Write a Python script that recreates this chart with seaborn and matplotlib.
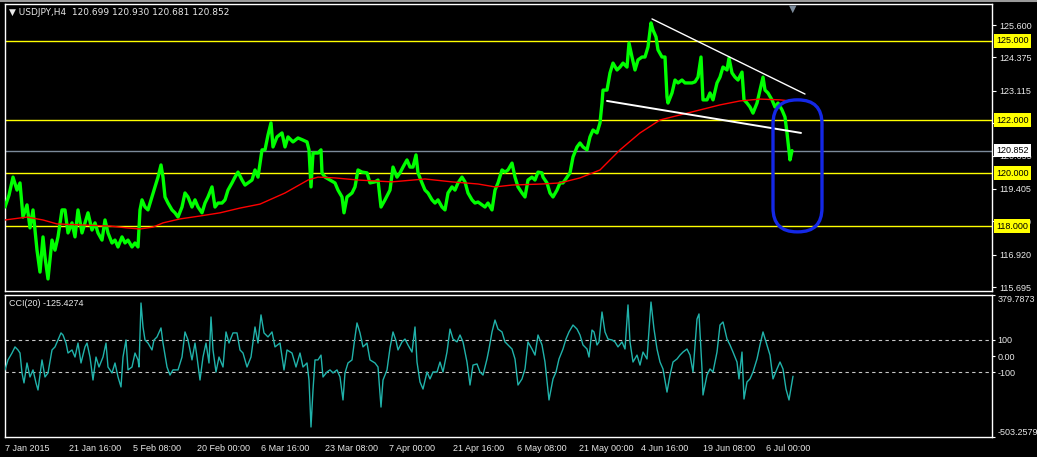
import numpy as np
import pandas as pd
import seaborn as sns
import matplotlib.pyplot as plt
import matplotlib.transforms as mtransforms
from matplotlib.patches import FancyBboxPatch
from matplotlib.lines import Line2D

sns.set_style("dark", {"axes.facecolor": "black", "figure.facecolor": "black"})
plt.rcParams["font.family"] = ["Liberation Sans", "DejaVu Sans"]

# --- price (USDJPY H4), bar number from the left edge ---
price_bar = [0, 4, 8, 12, 15, 18, 22, 25, 28, 32, 35, 38, 40, 43, 47, 50, 53, 57, 60, 63,
             67, 70, 73, 77, 80, 83, 87, 90, 93, 97, 100, 103, 107, 110, 113, 117, 120, 123, 127, 130,
             133, 135, 137, 140, 143, 147, 150, 153, 156, 158, 160, 163, 167, 170, 173, 177, 180, 183, 187, 190,
             193, 197, 200, 203, 207, 210, 213, 217, 220, 223, 227, 230, 233, 237, 240, 243, 247, 250, 253, 257,
             260, 263, 266, 268, 272, 277, 280, 283, 288, 293, 298, 302, 304, 306, 308, 313, 316, 317, 320, 325,
             330, 333, 337, 339, 342, 347, 350, 353, 357, 362, 365, 370, 373, 376, 380, 385, 388, 392, 395, 398,
             402, 405, 408, 411, 413, 417, 420, 423, 427, 430, 433, 437, 440, 443, 447, 450, 453, 457, 460, 463,
             467, 470, 473, 477, 480, 483, 487, 490, 493, 497, 500, 503, 507, 510, 513, 517, 520, 523, 527, 530,
             533, 537, 538, 542, 545, 548, 552, 555, 558, 562, 565, 568, 572, 575, 578, 582, 585, 588, 592, 595,
             597, 598, 602, 605, 608, 612, 615, 618, 622, 624, 627, 630, 633, 637, 640, 643, 646, 648, 651, 653,
             657, 660, 662, 663, 667, 670, 673, 677, 680, 683, 687, 690, 693, 696, 698, 702, 705, 708, 712, 715,
             718, 722, 724, 727, 730, 733, 737, 739, 742, 745, 748, 752, 755, 758, 760, 763, 767, 770, 773, 777,
             780, 782, 785, 787]
price_close = [118.72, 119.17, 119.85, 119.36, 119.63, 118.34, 118.80, 117.93, 118.61, 117.09,
               116.26, 117.59, 116.83, 116.00, 117.47, 117.09, 117.59, 118.61, 118.61, 117.74,
               118.12, 117.59, 118.61, 117.74, 118.12, 118.50, 117.85, 118.12, 117.74, 117.47,
               118.23, 117.74, 117.36, 117.47, 117.21, 117.59, 117.36, 117.47, 117.21, 117.36,
               117.21, 118.61, 118.99, 118.72, 118.61, 119.10, 119.48, 119.85, 120.31, 119.85,
               119.10, 118.87, 118.61, 118.50, 118.34, 118.72, 119.25, 119.10, 118.72, 118.99,
               118.72, 118.50, 118.87, 119.10, 119.48, 118.72, 118.87, 118.87, 118.99, 119.36,
               119.63, 119.85, 120.04, 119.74, 119.55, 119.63, 119.74, 120.12, 119.85, 120.88,
               120.88, 121.44, 121.90, 120.99, 121.37, 121.52, 120.99, 121.37, 121.18, 121.33,
               121.25, 121.18, 120.88, 119.48, 120.76, 120.76, 120.88, 120.01, 119.85, 119.74,
               119.63, 119.36, 119.10, 118.50, 119.10, 119.25, 119.48, 120.12, 120.04, 120.01,
               119.63, 119.67, 119.74, 118.72, 118.99, 119.36, 120.23, 119.85, 120.01, 120.23,
               120.50, 120.23, 120.23, 120.69, 120.01, 119.63, 119.36, 119.25, 118.99, 118.87,
               118.99, 118.72, 118.61, 119.25, 119.48, 119.36, 119.63, 119.85, 119.67, 119.25,
               118.99, 118.87, 118.91, 118.80, 118.72, 118.87, 118.61, 119.36, 119.63, 120.12,
               120.04, 120.12, 120.38, 119.85, 119.48, 119.25, 119.10, 119.74, 119.85, 119.74,
               120.04, 120.01, 119.85, 119.63, 119.25, 119.10, 119.36, 119.63, 119.63, 119.85,
               120.01, 120.61, 120.99, 121.14, 120.99, 120.88, 121.37, 121.63, 121.52, 121.90,
               122.65, 123.14, 123.14, 123.79, 124.16, 123.90, 124.01, 124.16, 124.01, 124.92,
               124.39, 123.90, 124.28, 124.39, 124.39, 124.77, 125.68, 125.41, 125.15, 124.66,
               124.39, 124.39, 122.88, 122.65, 123.03, 123.52, 123.41, 123.52, 123.41, 123.41,
               123.41, 123.45, 123.63, 124.39, 122.77, 122.77, 123.03, 122.77, 123.41, 123.63,
               124.01, 123.90, 124.35, 123.79, 123.63, 123.52, 123.82, 122.77, 122.65, 122.50,
               122.27, 122.65, 123.14, 123.63, 123.14, 123.03, 122.77, 122.50, 122.65, 122.39,
               122.12, 121.52, 120.50, 120.85]

# --- red moving average ---
ma_bar = [0, 22, 38, 52, 78, 105, 122, 135, 148, 158, 175, 195, 215, 235, 255, 280, 303, 313, 330, 353,
          387, 420, 447, 473, 490, 507, 537, 555, 575, 595, 615, 635, 655, 675, 695, 715, 735, 755, 775, 785]
ma_value = [118.23, 118.34, 118.23, 118.08, 118.04, 118.00, 117.93, 117.89, 117.96, 118.12,
            118.27, 118.38, 118.50, 118.68, 118.83, 119.25, 119.74, 119.85, 119.82, 119.74,
            119.67, 119.78, 119.67, 119.59, 119.48, 119.55, 119.59, 119.63, 119.82, 120.12,
            120.88, 121.52, 122.01, 122.20, 122.39, 122.58, 122.73, 122.80, 122.77, 122.73]

# --- CCI(20) ---
cci_bar = [0, 3, 7, 10, 13, 15, 17, 19, 22, 25, 28, 31, 33, 37, 40, 43, 47, 50, 53, 56,
           58, 61, 63, 67, 70, 73, 76, 80, 82, 85, 88, 91, 94, 98, 101, 103, 107, 110, 113, 116,
           118, 121, 123, 127, 130, 133, 134, 136, 138, 140, 143, 147, 149, 152, 156, 158, 162, 165, 168, 173,
           177, 180, 183, 187, 190, 192, 195, 198, 201, 204, 206, 208, 211, 214, 218, 221, 224, 228, 232, 235,
           238, 242, 246, 250, 253, 256, 259, 263, 267, 270, 275, 279, 282, 287, 291, 295, 298, 302, 304, 306,
           308, 310, 313, 316, 318, 322, 325, 328, 332, 335, 338, 340, 343, 347, 350, 352, 355, 358, 362, 365,
           370, 373, 376, 378, 382, 385, 388, 391, 393, 397, 400, 403, 407, 410, 412, 415, 418, 422, 425, 428,
           432, 435, 438, 442, 445, 448, 452, 455, 458, 462, 465, 468, 472, 475, 478, 482, 484, 487, 490, 493,
           497, 500, 503, 507, 510, 513, 517, 520, 523, 527, 530, 533, 537, 540, 544, 548, 551, 554, 558, 561,
           564, 568, 572, 575, 578, 582, 584, 587, 589, 592, 594, 597, 600, 603, 607, 610, 613, 617, 620, 623,
           625, 628, 632, 635, 638, 642, 646, 649, 652, 655, 658, 662, 665, 668, 672, 675, 678, 682, 685, 688,
           692, 694, 697, 698, 702, 705, 708, 712, 715, 718, 722, 725, 728, 732, 734, 737, 739, 742, 745, 748,
           752, 755, 758, 762, 765, 768, 772, 775, 778, 781, 784, 788]
cci_value = [-86, -24, 19, 57, 38, 19, -105, -167, -43, -130, -86, -167, -211, -24, -130, -105, 38, 57, 100, 144,
             131, 81, 19, 38, -6, 81, -43, 57, 81, -6, -149, -6, -68, -6, 81, -68, -105, -43, -130, -192,
             -6, 100, -86, -68, 19, -24, -68, 330, 181, 100, 81, 38, 100, 119, 175, 81, -68, -118, -86, -86,
             -6, 150, 100, -24, 81, -6, -149, -6, 81, -43, 243, 38, -99, -6, -68, 150, 81, 144, 144, 38,
             19, -68, -6, 181, 81, 256, 144, 119, 150, 57, 81, -86, 38, 19, -68, 19, -68, -43, -149, -441,
             -211, -24, -24, 6, -130, -99, -86, -105, -86, -130, -273, -105, -43, -24, 119, 206, 144, 57, 81, -24,
             -43, -68, -317, -149, -86, 50, 150, 95, 38, 88, 106, 69, 25, 181, -37, -161, -205, -99, -142, -99,
             -99, -37, -99, 25, 168, 106, 88, 131, 88, -37, -180, -56, -49, -99, -118, -18, 44, 150, 224, 168,
             150, 88, 69, 44, -18, -180, -142, -80, 88, 44, 6, 131, 69, -37, -273, -142, -99, -18, 44, 106,
             150, 193, 168, 131, 69, 44, -6, 162, 150, 69, 88, 274, 150, 106, 100, 88, 57, 88, 44, 318,
             88, -37, 6, -56, 25, -18, 336, 168, 44, -37, -80, -224, -118, -37, -18, 6, 25, 44, 6, -99,
             230, 262, -80, -242, -118, -80, -99, 25, 193, 212, 106, 69, 25, -37, -142, 25, -267, -161, -142, -99,
             -18, 69, 150, 69, 6, -142, -80, -37, -80, -205, -273, -125.4274]

# --- drawn objects and levels ---
upper_trend_bar = [647, 800]
upper_trend_price = [125.83, 122.99]
lower_trend_bar = [602, 796]
lower_trend_price = [122.73, 121.52]
yellow_levels = [125.0, 122.0, 120.0, 118.0]
last_price = 120.852
price_ticks = [125.600, 124.375, 123.115, 121.885, 120.655, 119.405, 118.180, 116.920, 115.695]
cci_ticks = [379.7873, 100, 0, -100, -503.2579]
cci_tick_labels = ["379.7873", "100", "0.00", "-100", "-503.2579"]
date_ticks = [0, 64, 128, 192, 256, 320, 384, 448, 512, 574, 636, 698, 761]
date_labels = ["7 Jan 2015", "21 Jan 16:00", "5 Feb 08:00", "20 Feb 00:00", "6 Mar 16:00",
               "23 Mar 08:00", "7 Apr 00:00", "21 Apr 16:00", "6 May 08:00", "21 May 00:00",
               "4 Jun 16:00", "19 Jun 08:00", "6 Jul 00:00"]

W, H = 1037, 457
fig = plt.figure(figsize=(W / 100, H / 100), dpi=100)
fig.patch.set_facecolor("black")
ax = fig.add_axes([5 / W, (H - 291) / H, 987 / W, 287 / H])
ax2 = fig.add_axes([5 / W, (H - 437) / H, 987 / W, 142 / H])

txt = "#e8e8e8"
fs = 6.5

# thin grey window edge along the top
fig.add_artist(Line2D([0, 1], [0.998, 0.998], transform=fig.transFigure, color="#9a9a9a", lw=1.5))

# main panel
for lvl in yellow_levels:
    ax.axhline(lvl, color="#ffff00", lw=1, zorder=1)
ax.axhline(last_price, color="#7b8a9a", lw=1, zorder=1)

sns.lineplot(x=price_bar, y=price_close, ax=ax, color="#00ff00", lw=2.4,
             estimator=None, sort=False, zorder=3)
sns.lineplot(x=ma_bar, y=ma_value, ax=ax, color="#ff0000", lw=1,
             estimator=None, sort=False, zorder=4)
ax.plot(upper_trend_bar, upper_trend_price, color="white", lw=1, zorder=5)
ax.plot(lower_trend_bar, lower_trend_price, color="white", lw=1.4, zorder=5)

# blue rounded marker
box = FancyBboxPatch((768, 117.78), 49, 4.99,
                     boxstyle="round,pad=0,rounding_size=24", mutation_aspect=0.0378,
                     fc="none", ec="#1428e6", lw=2.4, zorder=6)
ax.add_patch(box)

ax.set_xlim(0, 987)
ax.set_ylim(115.545, 126.394)
ax.set_xticks([])
ax.yaxis.tick_right()
ax.set_yticks(price_ticks)
ax.set_yticklabels([f"{v:.3f}" for v in price_ticks])
ax.tick_params(axis="y", colors="white", labelcolor=txt, labelsize=fs, length=3, pad=2)
ax.set_xlabel("")
ax.set_ylabel("")

trans = mtransforms.blended_transform_factory(ax.transAxes, ax.transData)
for lvl in yellow_levels:
    ax.text(1.0 + 4 / 987, lvl, f"{lvl:.3f}", transform=trans, va="center", ha="left",
            fontsize=fs, color="black", clip_on=False, zorder=10,
            bbox=dict(boxstyle="square,pad=0.25", fc="#ffff00", ec="none"))
ax.text(1.0 + 4 / 987, last_price, f"{last_price:.3f}", transform=trans, va="center", ha="left",
        fontsize=fs, color="black", clip_on=False, zorder=10,
        bbox=dict(boxstyle="square,pad=0.25", fc="white", ec="none"))

ax.text(0.004, 0.985, "▼ USDJPY,H4  120.699 120.930 120.681 120.852", transform=ax.transAxes,
        va="top", ha="left", fontsize=fs, color=txt, family=["DejaVu Sans"])
ax.text(788, 126.394, "▼", va="top", ha="center", fontsize=7, color="#7b8a9a",
        family=["DejaVu Sans"], zorder=7)

# CCI panel
ax2.axhline(100, color="#c8c8c8", lw=0.8, ls=(0, (3, 3)), zorder=1)
ax2.axhline(-100, color="#c8c8c8", lw=0.8, ls=(0, (3, 3)), zorder=1)
sns.lineplot(x=cci_bar, y=cci_value, ax=ax2, color="#20b2aa", lw=1,
             estimator=None, sort=False, zorder=3)
ax2.set_xlim(0, 987)
ax2.set_ylim(-503.2579, 379.7873)
ax2.yaxis.tick_right()
ax2.set_yticks(cci_ticks)
ax2.set_yticklabels(cci_tick_labels)
ax2.tick_params(axis="y", colors="white", labelcolor=txt, labelsize=fs, length=2, pad=2)
labels = ax2.get_yticklabels()
labels[0].set_va("top")
labels[-1].set_va("bottom")
ax2.set_xticks(date_ticks)
ax2.set_xticklabels(date_labels)
for lbl in ax2.get_xticklabels():
    lbl.set_ha("left")
ax2.tick_params(axis="x", colors="white", labelcolor=txt, labelsize=fs, length=3, pad=2)
ax2.set_xlabel("")
ax2.set_ylabel("")
ax2.text(0.004, 0.97, "CCI(20) -125.4274", transform=ax2.transAxes,
         va="top", ha="left", fontsize=fs, color=txt)

for a in (ax, ax2):
    a.grid(False)
    for s in a.spines.values():
        s.set_color("white")
        s.set_linewidth(1)

fig.savefig("out.png", dpi=100, facecolor="black")
